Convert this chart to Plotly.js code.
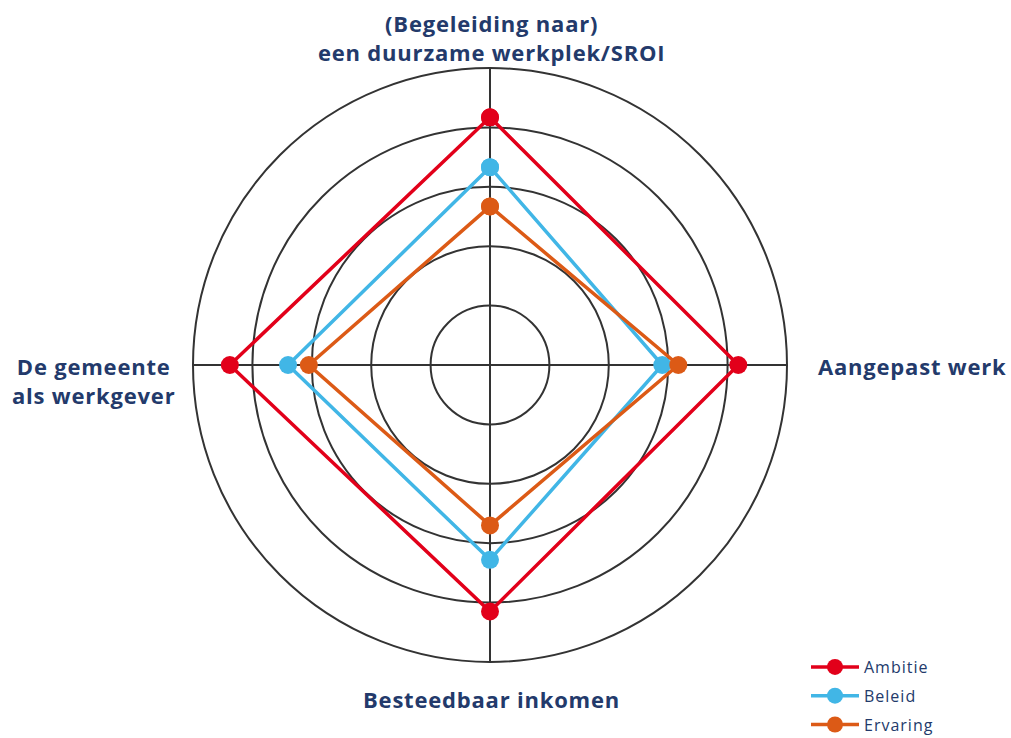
<!DOCTYPE html>
<html>
<head>
<meta charset="utf-8">
<script src="https://cdn.plot.ly/plotly-3.0.1.min.js"></script>
<style>
html,body{margin:0;padding:0;background:#fff;}
#chart{width:1011px;height:738px;}
.annotation-text{letter-spacing:0.8px;}
.legendtext{letter-spacing:1px;}
</style>
</head>
<body>
<div id="chart"></div>
<script>
// Axes (top, right, bottom, left — clockwise)
const categories = [
  "(Begeleiding naar) een duurzame werkplek/SROI",
  "Aangepast werk",
  "Besteedbaar inkomen",
  "De gemeente als werkgever"
];
const seriesNames = ["Ambitie", "Beleid", "Ervaring"];
const ambitie  = [4.17, 4.18, 4.15, 4.38];
const beleid   = [3.33, 2.90, 3.28, 3.40];
const ervaring = [2.67, 3.17, 2.70, 3.05];
const colors = ["#e2001a", "#41b6e6", "#dc5a16"];

const navy = "#233a6b";
const font = "'Open Sans', 'Liberation Sans', sans-serif";

function closeLoop(a){ return a.concat([a[0]]); }

const allValues = [ambitie, beleid, ervaring];
const traces = allValues.map((vals, i) => ({
  type: "scatterpolar",
  mode: "lines+markers",
  name: seriesNames[i],
  legendgroup: seriesNames[i],
  r: closeLoop(vals),
  theta: closeLoop(categories),
  line: {color: colors[i], width: 3.5},
  marker: {color: colors[i], size: 18},
  hoverinfo: "name+r"
}));

const labelFont = {family: font, size: 22, color: navy, weight: 700};

const layout = {
  width: 1011,
  height: 738,
  margin: {l: 0, r: 0, t: 0, b: 0, autoexpand: false},
  paper_bgcolor: "#ffffff",
  showlegend: true,
  legend: {
    x: 806/1011, y: (738-650)/738, xanchor: "left", yanchor: "top",
    font: {family: font, size: 16, color: navy},
    tracegroupgap: 5,
    itemwidth: 48,
    bgcolor: "rgba(0,0,0,0)"
  },
  polar: {
    domain: {x: [193/1011, 787/1011], y: [76/738, 670/738]},
    bgcolor: "#ffffff",
    radialaxis: {
      range: [0, 5], dtick: 1, tick0: 0,
      showticklabels: false, ticks: "", showline: false,
      gridcolor: "#333333", gridwidth: 2
    },
    angularaxis: {
      rotation: 90, direction: "clockwise",
      showticklabels: false, ticks: "",
      gridcolor: "#333333", gridwidth: 2,
      showline: true, linecolor: "#333333", linewidth: 2
    }
  },
  annotations: [
    {text: "(Begeleiding naar)<br>een duurzame werkplek/SROI", x: 491/1011, y: (738-37)/738,
     xref: "paper", yref: "paper", xanchor: "center", yanchor: "middle", showarrow: false, align: "center",
     font: labelFont},
    {text: "Aangepast werk", x: 816/1011, y: (738-366)/738,
     xref: "paper", yref: "paper", xanchor: "left", yanchor: "middle", showarrow: false,
     font: labelFont},
    {text: "Besteedbaar inkomen", x: 491/1011, y: (738-699)/738,
     xref: "paper", yref: "paper", xanchor: "center", yanchor: "middle", showarrow: false,
     font: labelFont},
    {text: "De gemeente<br>als werkgever", x: 93/1011, y: (738-380)/738,
     xref: "paper", yref: "paper", xanchor: "center", yanchor: "middle", showarrow: false, align: "center",
     font: labelFont}
  ]
};

Plotly.newPlot("chart", traces, layout, {displayModeBar: false, staticPlot: true});
</script>
</body>
</html>
